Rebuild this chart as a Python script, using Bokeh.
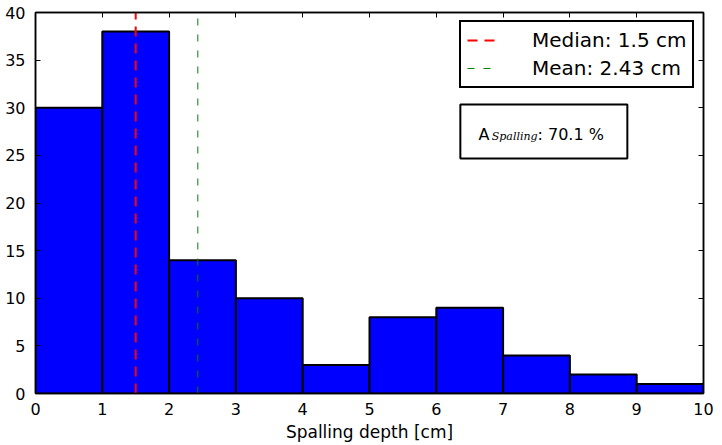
from bokeh.plotting import figure
from bokeh.models import Range1d, LinearAxis, SingleIntervalTicker, Label, BoxAnnotation, Legend, LegendItem
from bokeh.embed import file_html
from bokeh.resources import INLINE

# data
bin_edges = [0, 1, 2, 3, 4, 5, 6, 7, 8, 9, 10]
counts = [30, 38, 14, 10, 3, 8, 9, 4, 2, 1]
median_val = 1.5
mean_val = 2.43
a_spalling = 70.1
x_label = "Spalling depth [cm]"

FONT = "DejaVu Sans"

p = figure(width=722, height=445, output_backend="svg", toolbar_location=None,
           x_range=Range1d(0, 10), y_range=Range1d(0, 40),
           min_border_left=35, min_border_right=19, min_border_top=12, min_border_bottom=52)
p.background_fill_color = "white"
p.border_fill_color = "white"
p.grid.visible = False
p.outline_line_color = "black"
p.outline_line_width = 1.5

p.quad(left=bin_edges[:-1], right=bin_edges[1:], bottom=0, top=counts,
       fill_color="#0000ff", line_color="black", line_width=2)

med = p.segment(x0=[median_val], y0=[0], x1=[median_val], y1=[40],
                line_color="red", line_width=2, line_dash="10 7")
mean = p.segment(x0=[mean_val], y0=[0], x1=[mean_val], y1=[40],
                 line_color="green", line_width=1, line_dash="7 9")

def style_axis(ax, labels=True):
    ax.major_tick_in = 5
    ax.major_tick_out = 0
    ax.minor_tick_line_color = None
    ax.axis_line_width = 1.5
    ax.axis_line_color = "black"
    ax.major_tick_line_color = "black"
    ax.major_tick_line_width = 1
    ax.major_label_text_font = FONT
    if labels:
        ax.major_label_text_font_size = "16px"
        ax.major_label_text_color = "black"
    else:
        ax.major_label_text_font_size = "1px"
        ax.major_label_text_color = None
        ax.major_label_standoff = 0

p.xaxis.ticker = SingleIntervalTicker(interval=1)
p.yaxis.ticker = SingleIntervalTicker(interval=5)
style_axis(p.xaxis[0])
style_axis(p.yaxis[0])
p.xaxis.major_label_standoff = 5
p.yaxis.major_label_standoff = 6
p.xaxis.axis_label = x_label
p.xaxis.axis_label_text_font = FONT
p.xaxis.axis_label_text_font_style = "normal"
p.xaxis.axis_label_text_font_size = "17px"
p.xaxis.axis_label_text_color = "black"
p.xaxis.axis_label_standoff = 4

top_ax = LinearAxis(ticker=SingleIntervalTicker(interval=1))
style_axis(top_ax, labels=False)
p.add_layout(top_ax, "above")
right_ax = LinearAxis(ticker=SingleIntervalTicker(interval=5))
style_axis(right_ax, labels=False)
p.add_layout(right_ax, "right")

legend = Legend(items=[LegendItem(label="Median: 1.5 cm", renderers=[med]),
                       LegendItem(label="Mean: 2.43 cm", renderers=[mean])],
                location=(424, 305))
legend.label_text_font = FONT
legend.label_text_font_size = "20px"
legend.label_text_color = "black"
legend.label_height = 20
legend.glyph_height = 20
legend.glyph_width = 30
legend.spacing = 4
legend.padding = 6
legend.margin = 0
legend.label_standoff = 35
legend.border_line_color = "black"
legend.border_line_alpha = 1
legend.border_line_width = 2
legend.background_fill_alpha = 1
p.add_layout(legend)

# text box
p.add_layout(BoxAnnotation(left=6.36, right=8.86, bottom=24.67, top=30.34,
                           fill_color="white", fill_alpha=1, line_color="black",
                           line_alpha=1, line_width=2))
p.add_layout(Label(x=6.63, y=27.19, text="A", text_font=FONT, text_font_size="16px",
                   text_color="black", text_baseline="alphabetic"))
p.add_layout(Label(x=6.83, y=26.98, text="Spalling", text_font="DejaVu Serif",
                   text_font_style="italic", text_font_size="11px", text_color="black",
                   text_baseline="alphabetic"))
p.add_layout(Label(x=7.515, y=27.19, text=f": {a_spalling} %", text_font=FONT,
                   text_font_size="16px", text_color="black", text_baseline="alphabetic"))

open("out.html", "w").write(file_html(p, INLINE))
